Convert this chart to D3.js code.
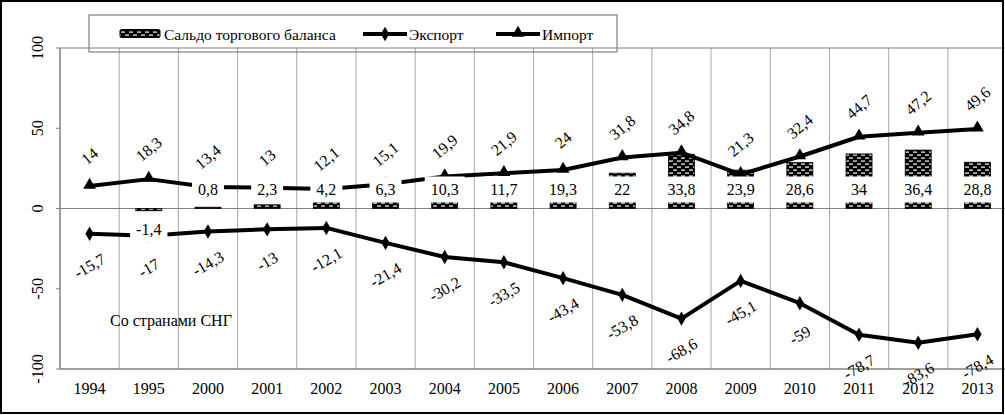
<!DOCTYPE html>
<html><head><meta charset="utf-8">
<script src="https://cdn.jsdelivr.net/npm/d3@7"></script>
<style>
html,body{margin:0;padding:0;background:#fff;}
text{font-family:"Liberation Serif","Times New Roman",serif;}
</style></head>
<body><svg id="c" width="1005" height="415"></svg>
<script>
const categories = ["1994","1995","2000","2001","2002","2003","2004","2005","2006","2007","2008","2009","2010","2011","2012","2013"];
const saldo  = [null,-1.4,0.8,2.3,4.2,6.3,10.3,11.7,19.3,22,33.8,23.9,28.6,34,36.4,28.8];
const exportV = [-15.7,-17,-14.3,-13,-12.1,-21.4,-30.2,-33.5,-43.4,-53.8,-68.6,-45.1,-59,-78.7,-83.6,-78.4];
const importV = [14,18.3,13.4,13,12.1,15.1,19.9,21.9,24,31.8,34.8,21.3,32.4,44.7,47.2,49.6];
const yTicks = [100,50,0,-50,-100];
const seriesNames = ["Сальдо торгового баланса","Экспорт","Импорт"];
const note = "Со странами СНГ";

const fmt = v => String(v).replace(".", ",");
const svg = d3.select("#c");

const defs = svg.append("defs");
const pat = defs.append("pattern").attr("id","brick").attr("patternUnits","userSpaceOnUse")
  .attr("width",8).attr("height",6);
pat.append("rect").attr("width",8).attr("height",6).attr("fill","#000");
pat.append("rect").attr("x",1).attr("y",1.5).attr("width",4).attr("height",1.2).attr("fill","#fff");
pat.append("rect").attr("x",5).attr("y",4.5).attr("width",4).attr("height",1.2).attr("fill","#fff");
pat.append("rect").attr("x",0).attr("y",4.5).attr("width",1).attr("height",1.2).attr("fill","#fff");

const x = d3.scaleBand().domain(categories).range([60, 1007]).paddingInner(0).paddingOuter(0);
const y = d3.scaleLinear().domain([-100, 100]).range([369, 48]);
const cx = c => x(c) + x.bandwidth()/2;

// gridlines
const grid = svg.append("g");
categories.forEach((c,i) => {
  if (i === 0) return;
  grid.append("line").attr("x1", x(c)).attr("x2", x(c)).attr("y1", 48).attr("y2", 369)
    .attr("stroke", "#a6a6a6").attr("stroke-width", 1);
});
grid.append("line").attr("x1",60).attr("x2",1007).attr("y1",y(100)).attr("y2",y(100)).attr("stroke","#808080");
grid.append("line").attr("x1",60).attr("x2",1007).attr("y1",y(0)).attr("y2",y(0)).attr("stroke","#808080");
grid.append("line").attr("x1",60).attr("x2",1007).attr("y1",y(-100)).attr("y2",y(-100)).attr("stroke","#808080").attr("stroke-width",1.5);
grid.append("line").attr("x1",60).attr("x2",60).attr("y1",48).attr("y2",369).attr("stroke","#808080").attr("stroke-width",1.5);

// y axis ticks and labels
yTicks.forEach(t => {
  svg.append("line").attr("x1",56).attr("x2",60).attr("y1",y(t)).attr("y2",y(t)).attr("stroke","#808080");
  svg.append("text").attr("transform",`translate(43,${y(t)}) rotate(-90)`)
    .attr("text-anchor","middle").attr("font-size",16).text(t);
});
// x labels
categories.forEach(c => {
  svg.append("text").attr("x", cx(c)).attr("y", 394).attr("text-anchor","middle").attr("font-size",16).text(c);
});

// bars
const bw = 26;
categories.forEach((c,i) => {
  const v = saldo[i];
  if (v === null) return;
  svg.append("rect").attr("x", cx(c)-bw/2).attr("width", bw)
    .attr("y", y(Math.max(0,v))).attr("height", Math.abs(y(v)-y(0)))
    .attr("fill","url(#brick)").attr("stroke","#000").attr("stroke-width",0.8);
});

// lines
const line = d3.line().x((d,i)=>cx(categories[i])).y(d=>y(d));
svg.append("path").attr("d", line(importV)).attr("fill","none").attr("stroke","#000").attr("stroke-width",4).attr("stroke-linejoin","round");
svg.append("path").attr("d", line(exportV)).attr("fill","none").attr("stroke","#000").attr("stroke-width",4).attr("stroke-linejoin","round");
const tri = d3.symbol().type(d3.symbolTriangle).size(70);
const dia = d3.symbol().type(d3.symbolDiamond).size(60);
importV.forEach((v,i) => svg.append("path").attr("d", tri()).attr("transform",`translate(${cx(categories[i])},${y(v)-1})`).attr("fill","#000"));
exportV.forEach((v,i) => svg.append("path").attr("d", dia()).attr("transform",`translate(${cx(categories[i])},${y(v)})`).attr("fill","#000"));

// import/export labels (rotated)
importV.forEach((v,i) => {
  svg.append("text").attr("transform",`translate(${cx(categories[i])},${y(v)-30}) rotate(-40)`)
    .attr("text-anchor","middle").attr("dominant-baseline","central").attr("font-size",16).text(fmt(v));
});
exportV.forEach((v,i) => {
  svg.append("text").attr("transform",`translate(${cx(categories[i])},${y(v)+32}) rotate(-30)`)
    .attr("text-anchor","middle").attr("dominant-baseline","central").attr("font-size",16).text(fmt(v));
});

// saldo labels with white boxes
categories.forEach((c,i) => {
  const v = saldo[i];
  if (v === null) return;
  const yc = v >= 0 ? y(0) - 19 : y(0) + 21;
  const g = svg.append("g");
  const r = g.append("rect").attr("fill","#fff");
  const t = g.append("text").attr("x", cx(c)).attr("y", yc).attr("text-anchor","middle")
    .attr("dominant-baseline","central").attr("font-size",16).text(fmt(v));
  const w = Math.max(t.node().getComputedTextLength() + 12, bw + 4);
  r.attr("x", cx(c)-w/2).attr("width", w).attr("y", yc-13).attr("height", 26);
});

// note
svg.append("text").attr("x",110).attr("y",326).attr("font-size",16).text(note);

// legend
const lg = svg.append("g");
lg.append("rect").attr("x",89).attr("y",15).attr("width",528).attr("height",37)
  .attr("fill","none").attr("stroke","#808080").attr("stroke-width",1.2);
lg.append("rect").attr("x",120).attr("y",29.5).attr("width",40).attr("height",8).attr("fill","url(#brick)").attr("stroke","#000").attr("rx",1.5);
lg.append("text").attr("x",164).attr("y",34).attr("dominant-baseline","central").attr("font-size",15.5).text(seriesNames[0]);
lg.append("line").attr("x1",363).attr("x2",407).attr("y1",34).attr("y2",34).attr("stroke","#000").attr("stroke-width",4);
lg.append("path").attr("d",dia()).attr("transform","translate(385,34)").attr("fill","#000");
lg.append("text").attr("x",409).attr("y",34).attr("dominant-baseline","central").attr("font-size",15.5).text(seriesNames[1]);
lg.append("line").attr("x1",496).attr("x2",540).attr("y1",34).attr("y2",34).attr("stroke","#000").attr("stroke-width",4);
lg.append("path").attr("d",tri()).attr("transform","translate(518,33)").attr("fill","#000");
lg.append("text").attr("x",542).attr("y",34).attr("dominant-baseline","central").attr("font-size",15.5).text(seriesNames[2]);

// outer border
svg.append("rect").attr("x",1).attr("y",1).attr("width",1002).attr("height",412)
  .attr("fill","none").attr("stroke","#000").attr("stroke-width",2);
</script></body></html>
